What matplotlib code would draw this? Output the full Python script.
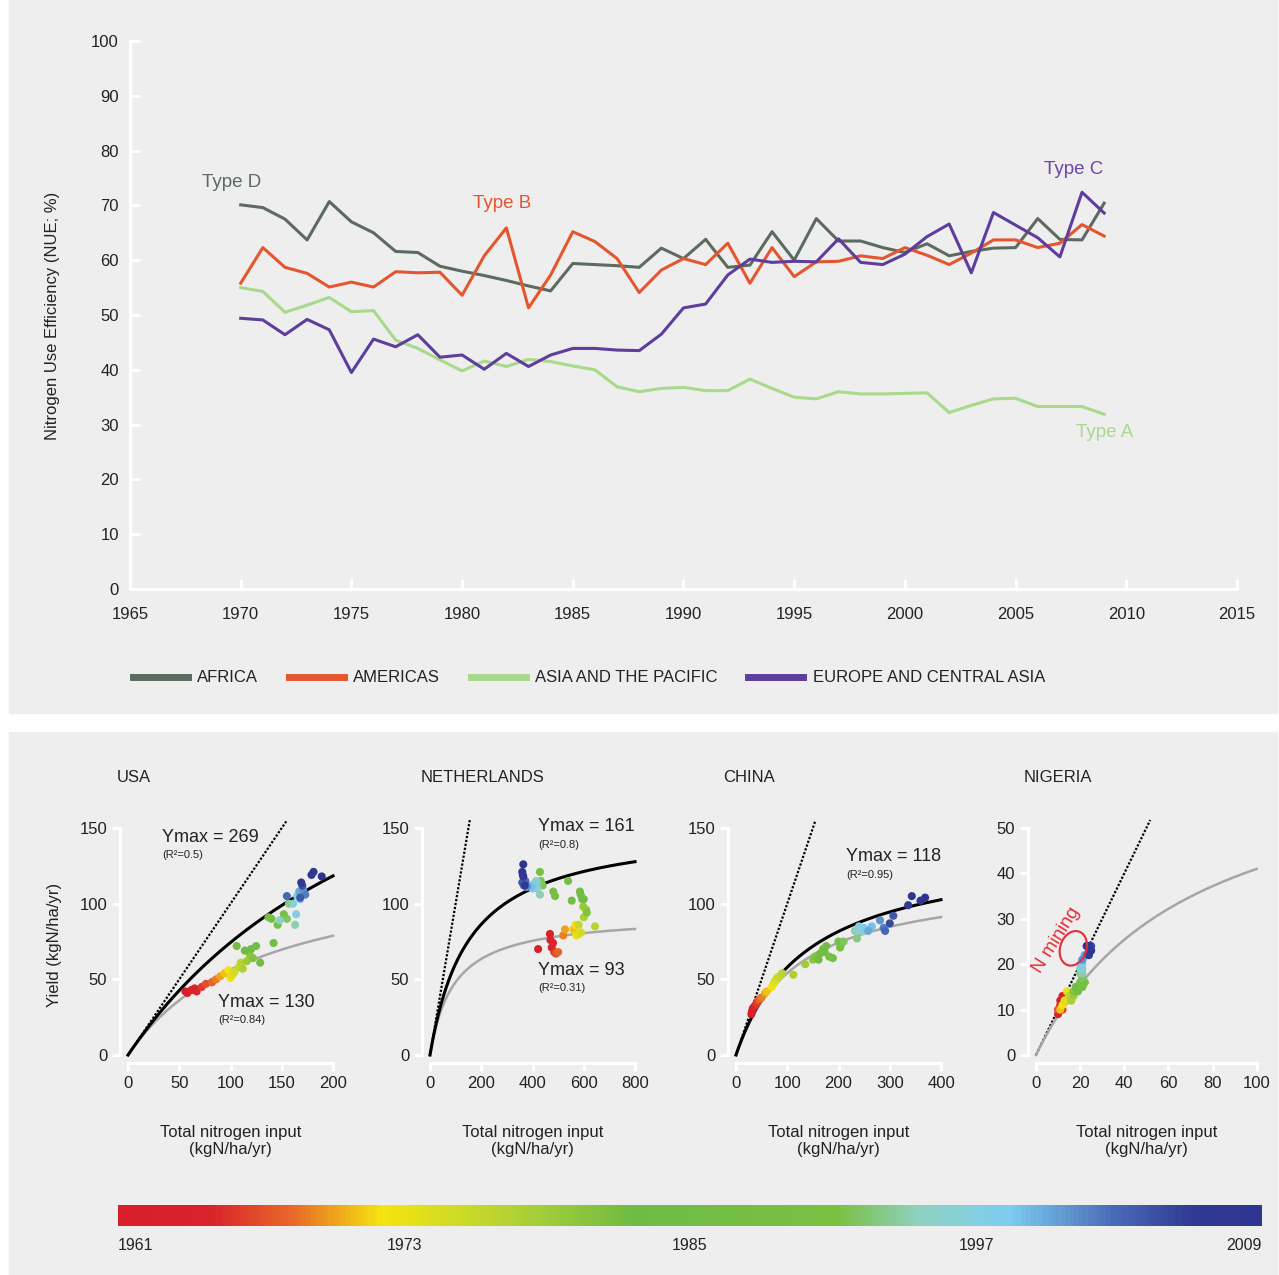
import numpy as np
import matplotlib
matplotlib.use('Agg')
import matplotlib.pyplot as plt
from matplotlib.colors import LinearSegmentedColormap, Normalize
from matplotlib.patches import Rectangle, Ellipse
from matplotlib.lines import Line2D
import matplotlib.cm as cm

plt.rcParams['font.family'] = ['Liberation Sans', 'DejaVu Sans']

# ---- top chart data: nitrogen use efficiency by region ----
years = list(range(1970, 2010))
africa = [70.1, 69.6, 67.5, 63.7, 70.7, 67.0, 65.0, 61.6, 61.4, 58.9,
          58.0, 57.2, 56.3, 55.3, 54.4, 59.4, 59.2, 59.0, 58.7, 62.2,
          60.3, 63.8, 58.7, 59.1, 65.2, 60.0, 67.6, 63.5, 63.5, 62.3,
          61.4, 63.0, 60.8, 61.6, 62.2, 62.3, 67.6, 63.8, 63.7, 70.4]
americas = [55.8, 62.3, 58.7, 57.6, 55.1, 56.0, 55.1, 57.9, 57.7, 57.8,
            53.6, 60.8, 65.9, 51.3, 57.3, 65.2, 63.4, 60.3, 54.1, 58.2,
            60.3, 59.2, 63.1, 55.8, 62.3, 57.0, 59.7, 59.8, 60.8, 60.3,
            62.3, 60.9, 59.2, 61.3, 63.7, 63.7, 62.3, 63.1, 66.5, 64.4]
asia_pacific = [55.0, 54.3, 50.5, 51.8, 53.2, 50.6, 50.8, 45.4, 43.9, 41.8,
                39.8, 41.6, 40.6, 41.9, 41.5, 40.7, 40.0, 36.9, 36.0, 36.6,
                36.8, 36.2, 36.2, 38.3, 36.6, 35.0, 34.7, 36.0, 35.6, 35.6,
                35.7, 35.8, 32.2, 33.5, 34.7, 34.8, 33.3, 33.3, 33.3, 31.9]
europe = [49.4, 49.1, 46.4, 49.2, 47.3, 39.5, 45.6, 44.2, 46.4, 42.3,
          42.7, 40.1, 43.0, 40.6, 42.7, 43.9, 43.9, 43.6, 43.5, 46.5,
          51.3, 52.0, 57.3, 60.2, 59.6, 59.8, 59.7, 63.9, 59.6, 59.2,
          61.1, 64.3, 66.6, 57.7, 68.7, 66.4, 64.1, 60.6, 72.4, 68.6]
region_names = ['AFRICA', 'AMERICAS', 'ASIA AND THE PACIFIC', 'EUROPE AND CENTRAL ASIA']
region_colors = ['#5c6a60', '#e4572e', '#a9d98b', '#5e3d9c']

# ---- bottom panels: yield vs total N input, 1961-2009 ----
scatter_years = list(range(1961, 2010))
usa_x = [56, 58, 62, 65, 67, 72, 76, 82, 86, 90, 94, 98, 100, 102, 104, 108, 110,
         112, 116, 119, 122, 106, 114, 120, 125, 129, 142, 137, 140, 146, 152, 155,
         157, 163, 148, 161, 164, 165, 168, 167, 171, 173, 155, 168, 170, 169, 179,
         181, 189]
usa_y = [42, 41, 43, 44, 42, 45, 47, 48, 50, 52, 54, 56, 51, 53, 55, 58, 61,
         57, 62, 66, 64, 72, 69, 70, 72, 61, 74, 91, 90, 86, 93, 90,
         100, 86, 89, 100, 93, 105, 103, 108, 109, 106, 105, 104, 112, 114, 119,
         121, 118]
nl_x = [422, 468, 475, 470, 480, 485, 491, 500, 520, 527, 560, 568, 571, 582, 590,
        580, 644, 600, 598, 609, 612, 600, 588, 594, 553, 585, 539, 488, 481, 429,
        432, 440, 423, 429, 414, 418, 405, 400, 395, 380, 377, 366, 372, 360, 362,
        370, 364, 360, 364]
nl_y = [70, 80, 71, 76, 74, 68, 67, 68, 79, 83, 83, 86, 79, 80, 81,
        86, 85, 91, 98, 96, 94, 103, 106, 103, 102, 108, 115, 105, 108, 121,
        115, 112, 114, 106, 115, 110, 113, 110, 111, 112, 111, 112, 115, 114, 119,
        112, 118, 121, 126]
china_x = [30, 31, 33, 36, 38, 40, 43, 46, 50, 57, 60, 70, 73, 76, 80, 85, 90,
           112, 135, 150, 154, 164, 161, 170, 176, 173, 182, 189, 200, 203, 205,
           210, 236, 232, 239, 245, 240, 250, 265, 258, 281, 288, 291, 307, 300,
           336, 343, 360, 369]
china_y = [27, 29, 31, 32, 33, 34, 36, 37, 38, 41, 42, 45, 47, 49, 51, 52, 54,
           53, 60, 63, 65, 67, 63, 70, 72, 68, 65, 64, 75, 71, 73,
           75, 77, 82, 83, 82, 85, 84, 85, 82, 89, 84, 82, 92, 87,
           99, 105, 102, 104]
nigeria_x = [11, 12, 11, 10, 11, 12, 10, 12, 13, 14, 11, 12, 14, 13, 15, 16, 15,
             16, 17, 18, 17, 19, 18, 20, 21, 22, 21, 22, 21, 20, 22, 21, 20, 21,
             21, 20, 20, 21, 21, 22, 21, 23, 24, 23, 25, 24, 25, 24, 23]
nigeria_y = [12, 13, 11, 9, 10, 10, 10, 11, 12, 12, 10, 11, 14, 12, 13, 12, 13,
             12, 13, 14, 14, 14, 15, 15, 15, 16, 15, 16, 17, 16, 16, 17, 18, 18,
             19, 19, 20, 20, 21, 22, 21, 22, 23, 24, 24, 22, 23, 24, 24]

panel_names = ['USA', 'NETHERLANDS', 'CHINA', 'NIGERIA']
panel_x = [usa_x, nl_x, china_x, nigeria_x]
panel_y = [usa_y, nl_y, china_y, nigeria_y]
panel_xmax = [200, 800, 400, 100]
panel_ymax = [150, 150, 150, 50]
# Ymax of the fitted curves as drawn (Y = Ymax*N/(N+Ymax))
black_ymax = [290, 152, 138, None]
gray_ymax = [130, 93, 118, 69.5]
ymax_labels = [
    [('Ymax = 269', '(R²=0.5)', 33, 144), ('Ymax = 130', '(R²=0.84)', 88, 35)],
    [('Ymax = 161', '(R²=0.8)', 421, 151), ('Ymax = 93', '(R²=0.31)', 421, 56)],
    [('Ymax = 118', '(R²=0.95)', 215, 131)],
    [],
]

W, H = 1279, 1275
fig = plt.figure(figsize=(W / 100, H / 100), dpi=100, facecolor='white')
bg = '#eeeeee'
txt = '#222222'
fig.patches.append(Rectangle((9 / W, 1 - 713 / H), 1268 / W, 713 / H,
                             transform=fig.transFigure, color=bg, zorder=-10))
fig.patches.append(Rectangle((9 / W, 0), 1268 / W, 1 - 732 / H,
                             transform=fig.transFigure, color=bg, zorder=-10))


def px_axes(x0, x1, y0, y1):
    return fig.add_axes([x0 / W, 1 - y0 / H, (x1 - x0) / W, (y0 - y1) / H])


# ---- top chart ----
ax = px_axes(130, 1237, 589, 41)
ax.set_facecolor('none')
series = [africa, americas, asia_pacific, europe]
handles = []
for vals, col, name in zip(series, region_colors, region_names):
    ax.plot(years, vals, color=col, lw=2.2)
    handles.append(Line2D([0], [0], color=col, lw=5))
ax.set_xlim(1965, 2015)
ax.set_ylim(0, 100)
ax.set_xticks(range(1965, 2016, 5))
ax.set_yticks(range(0, 101, 10))
for s in ['top', 'right']:
    ax.spines[s].set_visible(False)
for s in ['left', 'bottom']:
    ax.spines[s].set_color('white')
    ax.spines[s].set_linewidth(2.2)
ax.tick_params(direction='in', length=7, width=2.2, color='white',
               labelsize=12, labelcolor=txt)
ax.tick_params(axis='x', pad=13)
ax.tick_params(axis='y', pad=8)
fig.text(53 / W, 1 - 316 / H, 'Nitrogen Use Efficiency (NUE; %)', rotation=90,
         ha='center', va='center', fontsize=12, color=txt)
ax.text(1969.6, 74.1, 'Type D', color=region_colors[0], fontsize=13.5, ha='center', va='center')
ax.text(1981.8, 70.4, 'Type B', color=region_colors[1], fontsize=13.5, ha='center', va='center')
ax.text(2007.6, 76.5, 'Type C', color='#6a45a8', fontsize=13.5, ha='center', va='center')
ax.text(2009.0, 28.5, 'Type A', color=region_colors[2], fontsize=13.5, ha='center', va='center')
fig.legend(handles, region_names, loc='center left',
           bbox_to_anchor=(133 / W, 1 - 678 / H), ncol=4, frameon=False,
           handlelength=3.3, handletextpad=0.55, columnspacing=1.85,
           fontsize=12, borderpad=0, borderaxespad=0, labelcolor=txt)

# ---- colormap for years ----
cmap = LinearSegmentedColormap.from_list('years', [
    (0.0, '#d71f27'), (0.08, '#d9232a'), (0.15, '#e8672a'), (0.23, '#f5e50f'),
    (0.34, '#b5d334'), (0.45, '#6fbb44'), (0.63, '#79c143'), (0.70, '#8fd0c0'),
    (0.78, '#7dcdf0'), (0.87, '#4a6cb8'), (0.94, '#303a92'), (1.0, '#2e3590')])
norm = Normalize(1961, 2009)

# ---- bottom panels ----
boxes = [(128, 333), (430, 635), (736, 941), (1036, 1256.7)]
title_x = [117, 421, 723, 1024]
for i in range(4):
    x0, x1 = boxes[i]
    a = px_axes(x0, x1, 1055, 828)
    a.set_facecolor('none')
    xm, ym = panel_xmax[i], panel_ymax[i]
    nn = np.linspace(0, xm, 300)
    lim = ym * 1.035
    a.plot([0, lim], [0, lim], color='black', lw=1.6, ls=(0, (1, 0.8)), clip_on=False)
    a.plot(nn, gray_ymax[i] * nn / (nn + gray_ymax[i]), color='#a6a6a6', lw=1.8, clip_on=False)
    if black_ymax[i]:
        a.plot(nn, black_ymax[i] * nn / (nn + black_ymax[i]), color='black', lw=2.2, clip_on=False)
    a.scatter(panel_x[i], panel_y[i], c=scatter_years, cmap=cmap, norm=norm,
              s=34, edgecolors='none', zorder=5, clip_on=False)
    a.set_xlim(0, xm)
    a.set_ylim(0, ym)
    a.set_xticks(np.linspace(0, xm, 5 if i < 3 else 6))
    a.set_yticks(np.linspace(0, ym, 4 if i < 3 else 6))
    for s in ['top', 'right']:
        a.spines[s].set_visible(False)
    for s in ['left', 'bottom']:
        a.spines[s].set_color('white')
        a.spines[s].set_linewidth(2.2)
        a.spines[s].set_position(('outward', 6))
    a.spines['left'].set_bounds(0, ym)
    a.spines['bottom'].set_bounds(0, xm)
    a.tick_params(direction='out', length=6, width=2.2, color='white',
                  labelsize=12, labelcolor=txt, pad=3)
    for lab1, lab2, tx, ty in ymax_labels[i]:
        a.text(tx, ty, lab1, fontsize=13, color=txt, ha='left', va='center')
        a.text(tx, ty - ym * 0.08, lab2, fontsize=8, color=txt, ha='left', va='center')
    a.text(0.5, -0.38, 'Total nitrogen input\n(kgN/ha/yr)', transform=a.transAxes,
           ha='center', va='center', fontsize=12, color=txt, linespacing=1.15)
    fig.text(title_x[i] / W, 1 - 777 / H, panel_names[i], ha='left', va='center',
             fontsize=12, color=txt)
    if i == 3:
        a.add_patch(Ellipse((16.9, 23.5), 12.5, 7.4, angle=10, fill=False,
                            edgecolor='#e0303a', lw=1.5, zorder=6))
        a.text(9.4, 25.4, 'N mining', rotation=58, color='#e0303a', fontsize=13.5,
               ha='center', va='center')

fig.text(54 / W, 1 - 945 / H, 'Yield (kgN/ha/yr)', rotation=90, ha='center',
         va='center', fontsize=12, color=txt)

# ---- colour bar of years ----
cax = px_axes(118, 1262, 1226, 1205)
cb = fig.colorbar(cm.ScalarMappable(norm=norm, cmap=cmap), cax=cax, orientation='horizontal')
cb.outline.set_visible(False)
cb.set_ticks([1961, 1973, 1985, 1997, 2009])
cb.set_ticklabels(['1961', '1973', '1985', '1997', '2009'])
cax.tick_params(length=0, labelsize=11.5, labelcolor=txt, pad=9)
labs = cax.get_xticklabels()
labs[0].set_ha('left')
labs[-1].set_ha('right')

fig.savefig('out.png', dpi=100, facecolor='white')
